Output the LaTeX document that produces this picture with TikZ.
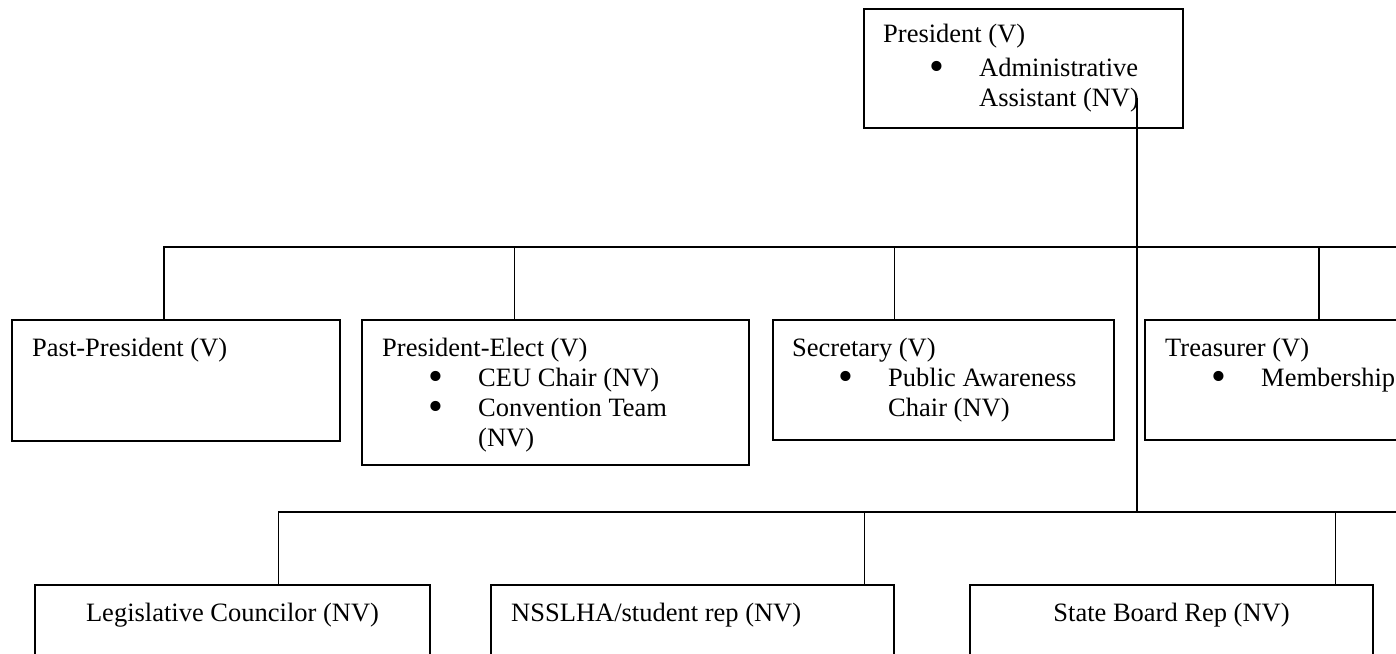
\documentclass[tikz,border=0pt]{standalone}
\usepackage{fontspec}
\setmainfont{Liberation Serif}
\newcommand{\itm}{\hspace*{46.6pt}\makebox[49.4pt][l]{\raisebox{-4pt}{\scalebox{1.6}{\textbullet}}}}
\newcommand{\cnt}{\hspace*{96pt}}
\tikzset{
  box/.style={draw=black,line width=2pt,rectangle,anchor=north west,inner sep=0pt},
  txt/.style={inner sep=0pt,align=left,font=\fontsize{26.5}{30}\selectfont},
  link/.style={draw=black,line width=1.9pt}
}
\begin{document}
\begin{tikzpicture}[x=1pt,y=-1pt]
\useasboundingbox (0,0) rectangle (1396,653);
\clip (0,0) rectangle (1396,653);
%% the boxes
\node[box,minimum width=319pt,minimum height=119pt] (pres) at (863,8) {};
\node[box,minimum width=328pt,minimum height=121pt] (past) at (11,319) {};
\node[box,minimum width=387pt,minimum height=145pt] (elect) at (361,319) {};
\node[box,minimum width=341pt,minimum height=120pt] (secr) at (772,319) {};
\node[box,minimum width=360pt,minimum height=120pt] (treas) at (1144,319) {};
\node[box,minimum width=395pt,minimum height=120pt] (legis) at (34,584) {};
\node[box,minimum width=403pt,minimum height=120pt] (nss) at (490,584) {};
\node[box,minimum width=403pt,minimum height=120pt] (state) at (969,584) {};
%% the texts
\node[txt,anchor=north west] (pres-t) at ([shift={(20pt,-16pt)}]pres.north west)
  {President (V)\\[4pt]\itm Administrative\\\cnt Assistant (NV)};
\node[txt,anchor=north west] (past-t) at ([shift={(21pt,-19pt)}]past.north west) {Past-President (V)};
\node[txt,anchor=north west] (elect-t) at ([shift={(21pt,-19pt)}]elect.north west)
  {President-Elect (V)\\\itm CEU Chair (NV)\\\itm Convention Team\\\cnt (NV)};
\node[txt,anchor=north west] (secr-t) at ([shift={(20pt,-19pt)}]secr.north west)
  {Secretary (V)\\\itm Public Awareness\\\cnt Chair (NV)};
\node[txt,anchor=north west] (treas-t) at ([shift={(21pt,-19pt)}]treas.north west)
  {Treasurer (V)\\\itm Membership};
\node[txt,anchor=north] (legis-t) at ([yshift=-19pt]legis.north) {Legislative Councilor (NV)};
\node[txt,anchor=north west] (nss-t) at ([shift={(21pt,-19pt)}]nss.north west) {NSSLHA/student rep (NV)};
\node[txt,anchor=north] (state-t) at ([yshift=-19pt]state.north) {State Board Rep (NV)};
%% the lines
\coordinate (trunk) at (1137,98);
\coordinate (ubus) at (1420,247);
\coordinate (lbus) at (1420,512);
\draw[link] (trunk) -- (trunk |- lbus);
\draw[link] ([xshift=-12pt]past.north) |- (ubus);
\draw[link] ([xshift=-41pt]elect.north) -- ([xshift=-41pt]elect.north |- ubus);
\draw[link] ([xshift=-49pt]secr.north) -- ([xshift=-49pt]secr.north |- ubus);
\draw[link] ([xshift=175pt]treas.north west) -- ([xshift=175pt]treas.north west |- ubus);
\draw[link] ([xshift=46pt]legis.north) |- (lbus);
\draw[link] ([xshift=172pt]nss.north) -- ([xshift=172pt]nss.north |- lbus);
\draw[link] ([xshift=164pt]state.north) -- ([xshift=164pt]state.north |- lbus);
\end{tikzpicture}
\end{document}
